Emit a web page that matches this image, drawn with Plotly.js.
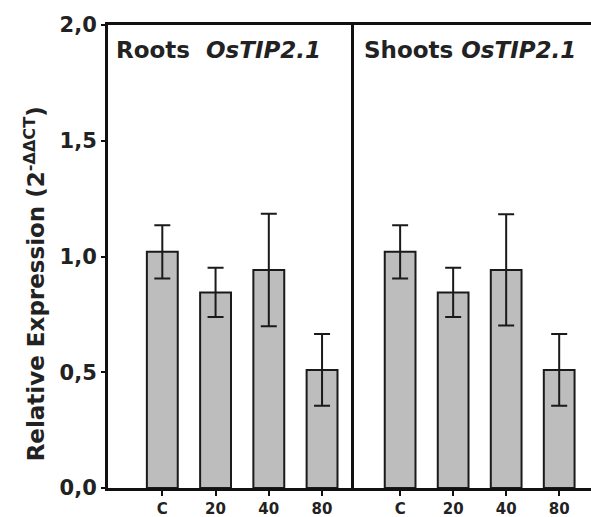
<!DOCTYPE html>
<html>
<head>
<meta charset="utf-8">
<script src="https://cdn.plot.ly/plotly-3.0.1.min.js"></script>
<style>html,body{margin:0;padding:0;background:#fff;}#chart{width:591px;height:517px;}</style>
</head>
<body>
<div id="chart"></div>
<script>
// Data
var categories = ["C", "20", "40", "80"];
var rootsValues = [1.02, 0.845, 0.942, 0.51];
var rootsErrors = [0.115, 0.106, 0.243, 0.155];
var shootsValues = [1.02, 0.845, 0.942, 0.51];
var shootsErrors = [0.115, 0.106, 0.240, 0.155];
var yTicks = [0, 0.5, 1.0, 1.5, 2.0];

var FONT = "DejaVu Sans, Liberation Sans, Arial, sans-serif";
var barStyle = {color: "#bdbdbd", line: {color: "#1a1a1a", width: 2}};
function errStyle(arr) {
  return {type: "data", array: arr, visible: true, color: "#1a1a1a", thickness: 2, width: 8};
}

var traces = [
  {type: "bar", x: categories, y: rootsValues, xaxis: "x", yaxis: "y",
   marker: barStyle, width: 0.58, error_y: errStyle(rootsErrors), hoverinfo: "skip"},
  {type: "bar", x: categories, y: shootsValues, xaxis: "x2", yaxis: "y2",
   marker: barStyle, width: 0.58, error_y: errStyle(shootsErrors), hoverinfo: "skip"}
];

var split = (354 - 108) / 483;
var xCommon = {
  type: "category", showline: true, linecolor: "#111", linewidth: 3, mirror: true,
  ticks: "outside", ticklen: 5, tickwidth: 2, tickcolor: "#111",
  showgrid: false, zeroline: false, fixedrange: true,
  tickfont: {family: FONT, size: 15, weight: "bold", color: "#222"}
};

var layout = {
  width: 591, height: 517,
  margin: {l: 108, r: 0, t: 25, b: 29, pad: 0},
  paper_bgcolor: "#fff", plot_bgcolor: "#fff",
  showlegend: false,
  separators: ",.",
  xaxis: Object.assign({}, xCommon, {domain: [0, split], anchor: "y", range: [-1.02, 3.6]}),
  xaxis2: Object.assign({}, xCommon, {domain: [split, 1], anchor: "y2", range: [-0.87, 3.6]}),
  yaxis: {
    domain: [0, 1], range: [0, 2], anchor: "x",
    tickvals: yTicks, tickformat: ".1f",
    showline: true, linecolor: "#111", linewidth: 3,
    ticks: "outside", ticklen: 4, tickwidth: 2, tickcolor: "#111",
    showgrid: false, zeroline: false, fixedrange: true,
    tickfont: {family: FONT, size: 21, weight: "bold", color: "#222"}
  },
  yaxis2: {
    domain: [0, 1], range: [0, 2], anchor: "x2",
    showline: true, linecolor: "#111", linewidth: 3,
    showticklabels: false, ticks: "", showgrid: false, zeroline: false, fixedrange: true
  },
  annotations: [
    {xref: "paper", yref: "paper", x: -0.151, y: 0.44, xanchor: "center", yanchor: "middle",
     textangle: -90, text: "Relative Expression (2<sup>-ΔΔCT</sup>)", showarrow: false,
     font: {family: FONT, size: 23, weight: "bold", color: "#222"}},
    {xref: "paper", yref: "paper", x: 0.012, y: 0.945, xanchor: "left", yanchor: "middle",
     text: "Roots  <i>OsTIP2.1</i>", showarrow: false,
     font: {family: FONT, size: 23, weight: "bold", color: "#222"}},
    {xref: "paper", yref: "paper", x: split + 0.016, y: 0.945, xanchor: "left", yanchor: "middle",
     text: "Shoots <i>OsTIP2.1</i>", showarrow: false,
     font: {family: FONT, size: 23, weight: "bold", color: "#222"}}
  ]
};

Plotly.newPlot("chart", traces, layout, {staticPlot: true, displayModeBar: false});
</script>
</body>
</html>
